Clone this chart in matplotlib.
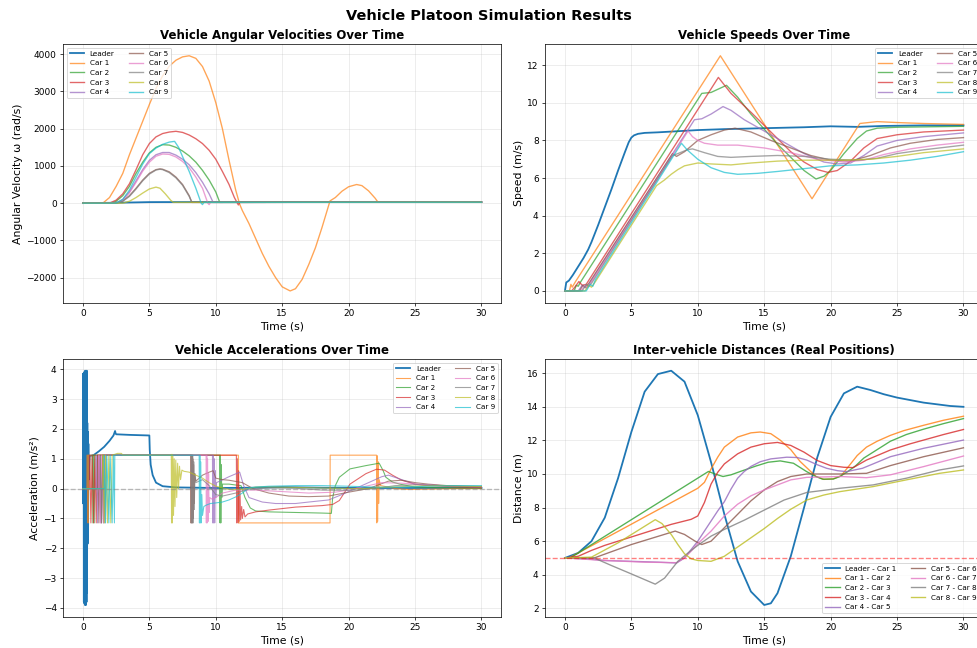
import matplotlib
matplotlib.use('Agg')
import matplotlib.pyplot as plt
import numpy as np

# ---------------- labels ----------------
VEHICLES = ['Leader', 'Car 1', 'Car 2', 'Car 3', 'Car 4', 'Car 5',
            'Car 6', 'Car 7', 'Car 8', 'Car 9']
PAIRS = ['Leader - Car 1', 'Car 1 - Car 2', 'Car 2 - Car 3', 'Car 3 - Car 4',
         'Car 4 - Car 5', 'Car 5 - Car 6', 'Car 6 - Car 7', 'Car 7 - Car 8',
         'Car 8 - Car 9']

# ---------------- angular velocity (t, rad/s) ----------------
OMEGA_LEADER = [(0, 0), (0.3, 2), (2, 8), (4, 20), (5, 27), (6, 28), (30, 29)]
OMEGA_CAR1 = [(0, 0), (1.5, 0), (2.0, 150), (2.5, 450), (3.0, 800), (3.5, 1300), (4.0, 1750),
              (4.5, 2200), (5.0, 2650), (5.5, 3080), (6.0, 3420), (6.5, 3680), (7.0, 3840),
              (7.5, 3930), (8.0, 3960), (8.5, 3890), (9.0, 3670), (9.5, 3280), (10.0, 2700),
              (10.5, 2000), (11.0, 1150), (11.5, 350), (11.8, -30), (12.0, -200), (12.5, -550),
              (13.0, -950), (13.5, -1350), (14.0, -1700), (14.5, -2000), (15.0, -2250),
              (15.6, -2360), (16.0, -2300), (16.5, -2050), (17.0, -1650), (17.5, -1200),
              (18.0, -650), (18.6, 60), (19.0, 150), (19.5, 320), (20.0, 440), (20.6, 500),
              (21.0, 470), (21.5, 330), (22.0, 130), (22.2, 30), (30, 30)]
OMEGA_CAR2 = [(0, 0), (2.2, 0), (2.5, 50), (3.0, 200), (3.5, 450), (4.0, 800), (4.5, 1100),
              (5.0, 1350), (5.5, 1500), (6.0, 1570), (6.5, 1560), (7.0, 1500), (7.5, 1400),
              (8.0, 1270), (8.5, 1100), (9.0, 880), (9.5, 620), (10.0, 300), (10.3, 20), (30, 25)]
OMEGA_CAR3 = [(0, 0), (2.0, 0), (2.5, 80), (3.0, 250), (3.5, 520), (4.0, 900), (4.5, 1300),
              (5.0, 1600), (5.5, 1780), (6.0, 1870), (6.5, 1910), (7.0, 1930), (7.5, 1900),
              (8.0, 1830), (8.5, 1730), (9.0, 1600), (9.5, 1420), (10.0, 1180), (10.5, 850),
              (11.0, 500), (11.4, 150), (11.7, -50), (11.8, 20), (30, 25)]
OMEGA_CAR4 = [(0, 0), (2.5, 0), (3.0, 100), (3.5, 300), (4.0, 600), (4.5, 900), (5.0, 1150),
              (5.5, 1300), (6.0, 1360), (6.5, 1360), (7.0, 1290), (7.5, 1180), (8.0, 1030),
              (8.5, 820), (9.0, 560), (9.5, 250), (9.8, 20), (30, 25)]
OMEGA_CAR5 = [(0, 0), (2.5, 0), (3.0, 60), (3.5, 200), (4.0, 400), (4.5, 620), (5.0, 800),
              (5.5, 900), (5.8, 920), (6.0, 910), (6.5, 840), (7.0, 700), (7.5, 500),
              (8.0, 200), (8.2, 20), (30, 25)]
OMEGA_CAR6 = [(0, 0), (2.5, 0), (3.0, 80), (3.5, 280), (4.0, 560), (4.5, 860), (5.0, 1100),
              (5.5, 1260), (6.0, 1320), (6.5, 1310), (7.0, 1240), (7.5, 1120), (8.0, 950),
              (8.5, 700), (9.0, 400), (9.4, 0), (9.5, -40), (9.6, 20), (30, 25)]
OMEGA_CAR7 = [(0, 0), (2.5, 0), (3.0, 50), (3.5, 180), (4.0, 380), (4.5, 600), (5.0, 780),
              (5.5, 890), (5.8, 910), (6.0, 900), (6.5, 820), (7.0, 680), (7.5, 480),
              (8.0, 180), (8.2, 20), (30, 25)]
OMEGA_CAR8 = [(0, 0), (3.0, 0), (3.5, 50), (4.0, 150), (4.5, 270), (5.0, 380), (5.5, 430),
              (5.8, 400), (6.2, 250), (6.6, 80), (6.8, 20), (30, 25)]
OMEGA_CAR9 = [(0, 0), (2.5, 0), (3.0, 100), (3.5, 350), (4.0, 700), (4.5, 1050), (5.0, 1330),
              (5.5, 1480), (6.0, 1580), (6.5, 1640), (6.9, 1660), (7.2, 1500), (7.5, 1250),
              (8.0, 850), (8.5, 400), (8.9, 0), (9.0, -40), (9.1, 20), (30, 25)]

# ---------------- speed (t, m/s) ----------------
SPEED_LEADER = [(0, 0), (0.1, 0.45), (0.3, 0.55), (0.6, 0.85), (1.0, 1.3), (1.4, 1.75),
                (1.75, 2.2), (2.0, 2.6), (2.5, 3.5), (3.0, 4.45), (3.5, 5.4), (4.0, 6.4),
                (4.5, 7.35), (4.8, 7.9), (5.0, 8.15), (5.2, 8.27), (5.5, 8.35), (6, 8.4),
                (7, 8.43), (8, 8.47), (10, 8.55), (12, 8.6), (15, 8.65), (18, 8.7), (20, 8.75),
                (22, 8.72), (24, 8.77), (27, 8.8), (30, 8.8)]
SPEED_CAR1 = [(0, 0), (0.34, 0), (0.45, 0.35), (0.55, 0.2), (0.8, 0.5), (11.7, 12.5),
              (18.6, 4.9), (22.2, 8.9), (23.5, 9.0), (25, 8.95), (27, 8.9), (30, 8.85)]
SPEED_CAR2 = [(0, 0), (0.7, 0), (0.85, 0.3), (1.0, 0.25), (1.2, 0.5), (10.3, 10.5), (11.0, 10.55),
              (12.16, 10.93), (13, 10.3), (14, 9.4), (15, 8.6), (16, 7.8), (17, 7.1), (18, 6.4),
              (18.9, 5.95), (19.5, 6.1), (20, 6.4), (21, 7.3), (22, 8.1), (22.7, 8.5),
              (23.5, 8.65), (25, 8.7), (30, 8.75)]
SPEED_CAR3 = [(0, 0), (0.5, 0), (0.8, 0.25), (1.05, 0.5), (1.3, 0.3), (1.6, 0.35), (11.55, 11.35),
              (12.5, 10.5), (14, 9.5), (15, 8.8), (16, 8.1), (17, 7.4), (18, 6.85), (19, 6.45),
              (19.8, 6.3), (20.5, 6.4), (21.5, 6.9), (22.5, 7.6), (23.5, 8.1), (25, 8.3),
              (27, 8.45), (30, 8.55)]
SPEED_CAR4 = [(0, 0), (1.0, 0), (1.3, 0.3), (1.6, 0.15), (1.9, 0.45), (9.75, 9.1), (10.3, 9.15),
              (11.0, 9.4), (11.9, 9.8), (12.5, 9.6), (13.5, 9.1), (15, 8.5), (16.5, 7.9),
              (18, 7.3), (19.5, 6.85), (20.5, 6.75), (21.5, 6.8), (22.5, 7.2), (23.5, 7.7),
              (25, 8.0), (27, 8.2), (30, 8.4)]
SPEED_CAR5 = [(0, 0), (1.1, 0), (1.35, 0.3), (1.5, 0.2), (1.8, 0.4), (8.1, 7.3), (8.4, 7.15),
              (9.0, 7.4), (10.0, 8.0), (11.0, 8.3), (12.0, 8.55), (12.8, 8.65), (14, 8.45),
              (15.5, 8.0), (17, 7.6), (18.5, 7.2), (20, 6.95), (21.5, 6.9), (23, 7.2),
              (24.5, 7.6), (26, 7.85), (28, 8.05), (30, 8.15)]
SPEED_CAR6 = [(0, 0), (1.2, 0), (1.5, 0.3), (1.7, 0.2), (2.0, 0.5), (9.27, 8.5), (9.6, 8.2),
              (10.0, 8.0), (10.5, 7.85), (11.5, 7.75), (13, 7.75), (15, 7.6), (17, 7.35),
              (19, 7.0), (21, 6.85), (22.5, 6.95), (24, 7.25), (26, 7.55), (28, 7.75), (30, 7.9)]
SPEED_CAR7 = [(0, 0), (1.3, 0), (1.6, 0.35), (1.8, 0.25), (2.0, 0.4), (8.1, 7.2), (8.5, 7.3),
              (9.2, 7.5), (9.6, 7.55), (10.5, 7.35), (11.5, 7.15), (12.5, 7.1), (14, 7.15),
              (16, 7.2), (18, 7.15), (20, 7.0), (22, 6.95), (23.5, 7.05), (25, 7.3),
              (27, 7.5), (30, 7.75)]
SPEED_CAR8 = [(0, 0), (1.5, 0), (1.8, 0.3), (2.0, 0.2), (2.3, 0.5), (6.9, 5.6), (7.5, 5.9),
              (8.0, 6.2), (8.5, 6.45), (9.0, 6.65), (10.0, 6.8), (11, 6.75), (12.5, 6.7),
              (14, 6.8), (16, 6.9), (18, 6.95), (21, 6.95), (23, 7.0), (25, 7.15),
              (27, 7.35), (30, 7.55)]
SPEED_CAR9 = [(0, 0), (1.6, 0), (1.9, 0.35), (2.1, 0.25), (2.3, 0.6), (8.77, 7.85), (9.2, 7.5),
              (10, 7.0), (11, 6.55), (12, 6.3), (13, 6.2), (14.5, 6.25), (16, 6.35), (18, 6.5),
              (20, 6.65), (22, 6.7), (24, 6.8), (26, 6.95), (28, 7.15), (30, 7.4)]

# ---------------- acceleration (t, m/s^2) ----------------
ACC_LEADER = [(0, 0), (0.01, 3.85), (0.03, -0.5), (0.05, 3.8), (0.07, -3.8), (0.09, 3.9),
              (0.11, -3.85), (0.13, 3.7), (0.15, -3.9), (0.17, 3.95), (0.19, -3.7), (0.21, 3.9),
              (0.23, -3.9), (0.25, 3.6), (0.27, -3.8), (0.29, 3.95), (0.31, -3.5), (0.33, 2.2),
              (0.35, -1.85), (0.37, 1.9), (0.39, -1.2), (0.41, 1.5), (0.43, 0.3), (0.5, 1.1),
              (0.8, 1.12), (1.2, 1.25), (1.6, 1.4), (2.0, 1.6), (2.3, 1.78), (2.42, 1.93),
              (2.46, 1.85), (2.5, 1.82), (3.5, 1.8), (5.0, 1.78), (5.03, 1.3), (5.1, 0.8),
              (5.25, 0.45), (5.5, 0.2), (6.0, 0.08), (7.0, 0.04), (10, 0.02), (13, 0.03),
              (15, 0.05), (18, 0.03), (21, 0.02), (25, 0.02), (30, 0.02)]
ACC_CAR1 = [(0, 0), (0.30, 0), (0.31, 1.12), (0.36, 1.12), (0.37, -1.15), (0.40, -1.15),
            (0.41, 1.12), (11.7, 1.12), (11.71, -1.15), (18.6, -1.15), (18.61, 1.12),
            (22.1, 1.12), (22.12, -1.15), (22.15, 1.1), (22.18, -1.1), (22.22, 0.9),
            (22.26, -0.5), (22.3, 0.3), (22.4, 0.1), (23.0, 0.05), (23.5, 0.0), (24.5, -0.03),
            (26, -0.02), (28, 0.0), (30, 0.0)]
ACC_CAR2 = [(0, 0), (0.7, 0), (0.71, 1.12), (0.75, -1.15), (0.8, 1.12), (0.85, -1.15),
            (0.9, 1.12), (10.3, 1.12), (10.32, -1.15), (10.35, 1.12), (10.38, -1.15),
            (10.42, 0.8), (10.45, -0.3), (10.5, 0.15), (11.0, 0.15), (11.5, 0.12), (11.9, 0.1),
            (12.2, -0.3), (12.6, -0.65), (13.0, -0.75), (14, -0.78), (16, -0.8), (18, -0.82),
            (18.7, -0.83), (18.8, -0.3), (19.0, 0.1), (19.3, 0.38), (20.1, 0.66), (21.3, 0.77),
            (22.3, 0.85), (22.6, 0.6), (22.8, 0.38), (23.3, 0.22), (23.85, 0.15), (25, 0.05),
            (27, 0.03), (30, 0.02)]
ACC_CAR3 = [(0, 0), (0.5, 0), (0.51, 1.12), (0.6, -1.15), (0.7, 1.12), (0.8, -1.15), (0.9, 1.12),
            (1.0, -1.15), (1.1, 1.12), (11.55, 1.12), (11.57, -1.15), (11.62, 1.0),
            (11.67, -1.15), (11.72, 0.6), (11.77, -1.1), (11.82, 0.0), (11.87, -1.05),
            (11.95, -0.6), (12.0, -1.0), (12.1, -0.7), (12.2, -0.95), (12.4, -0.85),
            (13, -0.78), (14, -0.72), (16, -0.62), (18, -0.57), (18.8, -0.53), (19.3, -0.4),
            (20.1, 0.15), (21.3, 0.5), (22.1, 0.65), (22.7, 0.62), (23.3, 0.45), (24, 0.28),
            (25, 0.15), (26, 0.1), (28, 0.06), (30, 0.04)]
ACC_CAR4 = [(0, 0), (1.0, 0), (1.01, 1.12), (1.1, -1.15), (1.2, 1.12), (1.35, -1.15),
            (1.45, 1.12), (1.55, -1.15), (1.6, 1.12), (9.75, 1.12), (9.77, -1.15), (9.8, 1.12),
            (9.84, -1.15), (9.88, 1.0), (9.92, -1.15), (9.96, 0.6), (10.0, -0.3), (10.05, 0.2),
            (10.3, 0.25), (11.0, 0.4), (11.8, 0.55), (12.1, 0.1), (12.5, -0.3), (13.5, -0.45),
            (14.5, -0.5), (16, -0.5), (17, -0.45), (18.5, -0.38), (19.5, -0.2), (20.5, 0.0),
            (21.5, 0.2), (22.5, 0.4), (23.0, 0.45), (24, 0.3), (25, 0.15), (27, 0.1),
            (30, 0.05)]
ACC_CAR5 = [(0, 0), (1.1, 0), (1.11, 1.12), (1.2, -1.15), (1.3, 1.12), (1.4, -1.15),
            (1.5, 1.12), (8.1, 1.12), (8.12, -1.15), (8.15, 1.12), (8.18, -1.15), (8.21, 1.12),
            (8.24, -1.15), (8.27, 1.0), (8.3, -1.0), (8.33, 0.8), (8.37, -0.5), (8.42, 0.5),
            (8.5, 0.25), (9.0, 0.45), (9.5, 0.55), (9.8, 0.6), (10.0, 0.35), (10.5, 0.3),
            (11, 0.28), (12, 0.2), (12.8, 0.0), (14, -0.15), (15.5, -0.25), (17, -0.27),
            (18.5, -0.25), (20, -0.12), (21.5, 0.0), (23, 0.25), (24, 0.28), (25, 0.2),
            (26, 0.15), (28, 0.08), (30, 0.03)]
ACC_CAR6 = [(0, 0), (1.2, 0), (1.21, 1.12), (1.3, -1.15), (1.4, 1.12), (1.55, -1.15),
            (1.65, 1.12), (9.27, 1.12), (9.29, -1.15), (9.32, 1.12), (9.35, -1.15), (9.38, 1.0),
            (9.42, -1.1), (9.46, 0.5), (9.5, -0.8), (9.55, -0.3), (9.7, -0.35), (10.0, -0.3),
            (10.5, -0.15), (11.5, -0.05), (13, -0.05), (15, -0.1), (17, -0.15), (19, -0.12),
            (20, -0.05), (21, 0.05), (22.5, 0.2), (24, 0.18), (26, 0.12), (28, 0.08),
            (30, 0.06)]
ACC_CAR7 = [(0, 0), (1.3, 0), (1.31, 1.12), (1.4, -1.15), (1.5, 1.12), (1.65, -1.15),
            (1.75, 1.12), (8.15, 1.12), (8.17, -1.15), (8.2, 1.12), (8.23, -1.15), (8.26, 1.12),
            (8.3, -1.15), (8.34, 0.9), (8.38, -0.7), (8.43, 0.5), (8.5, 0.2), (9.0, 0.3),
            (9.5, 0.1), (10, -0.2), (10.5, -0.25), (11.5, -0.15), (12.5, -0.02), (14, 0.02),
            (16, 0.01), (18, -0.05), (20, -0.06), (22, 0.0), (23.5, 0.1), (25, 0.13),
            (27, 0.1), (30, 0.07)]
ACC_CAR8 = [(0, 0), (1.5, 0), (1.51, 1.12), (1.6, -1.15), (1.7, 1.12), (1.85, -1.15),
            (1.95, 1.12), (2.1, -1.15), (2.2, 1.12), (2.6, 1.18), (2.9, 1.18), (3.0, 1.12),
            (6.65, 1.12), (6.67, -1.15), (6.7, 1.15), (6.73, -1.15), (6.77, 1.1), (6.82, -0.9),
            (6.87, 1.0), (6.93, -0.6), (6.99, 0.95), (7.06, -0.3), (7.13, 0.85), (7.2, 0.0),
            (7.27, 0.75), (7.35, 0.3), (7.45, 0.62), (7.6, 0.58), (8.0, 0.55), (8.5, 0.45),
            (9.0, 0.35), (9.5, 0.2), (10, 0.08), (11, -0.03), (12, -0.03), (13, 0.05),
            (14, 0.06), (16, 0.04), (18, 0.02), (21, 0.0), (23, 0.05), (25, 0.08), (27, 0.1),
            (30, 0.07)]
ACC_CAR9 = [(0, 0), (1.6, 0), (1.61, 1.12), (1.7, -1.15), (1.8, 1.12), (1.95, -1.15),
            (2.05, 1.12), (2.2, -1.15), (2.3, 1.12), (2.37, -1.15), (2.4, 1.12), (8.75, 1.12),
            (8.77, -1.15), (8.8, 1.12), (8.83, -1.15), (8.86, 0.9), (8.9, -1.15), (8.95, -0.2),
            (9.0, -0.9), (9.1, -0.6), (9.3, -0.55), (9.6, -0.5), (10.0, -0.48), (10.5, -0.45),
            (11, -0.38), (11.5, -0.28), (12, -0.15), (12.5, 0.02), (13, 0.05), (14, 0.08),
            (16, 0.1), (18, 0.1), (20, 0.08), (22, 0.05), (24, 0.05), (26, 0.08), (28, 0.1),
            (30, 0.1)]

# ---------------- inter-vehicle distance (t, m) ----------------
DIST_L_1 = [(0, 5.0), (1, 5.3), (2, 6.0), (3, 7.4), (4, 9.75), (5, 12.5), (6, 14.9), (7, 15.95),
            (8, 16.15), (9, 15.5), (10, 13.5), (11, 10.7), (12, 7.6), (13, 4.8), (14, 3.0),
            (15, 2.2), (15.5, 2.3), (16, 2.9), (17, 5.1), (18, 8.0), (19, 11.0), (20, 13.4),
            (21, 14.8), (22, 15.2), (23, 15.0), (24, 14.75), (25, 14.55), (26, 14.4),
            (27, 14.25), (28, 14.15), (29, 14.05), (30, 14.0)]
DIST_1_2 = [(0, 5.0), (0.3, 5.0), (10.0, 9.15), (10.5, 9.5), (11, 10.3), (11.5, 11.0),
            (12, 11.6), (13, 12.2), (14, 12.45), (14.7, 12.5), (15.5, 12.4), (16.2, 12.02),
            (17, 11.45), (17.7, 10.75), (18.5, 10.15), (18.9, 9.85), (19.5, 9.68), (20.2, 9.71),
            (20.8, 9.9), (21.4, 10.5), (22, 11.1), (22.7, 11.6), (23.5, 11.95), (24.5, 12.3),
            (25.5, 12.58), (27, 12.9), (28.5, 13.2), (30, 13.44)]
DIST_2_3 = [(0, 5.0), (0.4, 5.0), (10.8, 10.15), (11.3, 10.0), (11.9, 9.85), (12.5, 9.95),
            (13.2, 10.15), (14.4, 10.48), (15.3, 10.7), (16.2, 10.78), (17.2, 10.64),
            (18.2, 10.14), (18.9, 9.85), (19.4, 9.69), (20.2, 9.7), (20.7, 9.85), (21.3, 10.15),
            (21.9, 10.5), (22.5, 10.95), (23.2, 11.3), (24.5, 11.95), (25.7, 12.35),
            (27, 12.67), (28.5, 13.0), (30, 13.3)]
DIST_3_4 = [(0, 5.0), (1, 5.1), (2, 5.45), (3, 5.75), (5, 6.25), (8, 7.0), (9.5, 7.3),
            (10, 7.5), (10.5, 8.3), (11, 9.4), (11.5, 10.1), (12, 10.6), (13, 11.2),
            (14, 11.6), (15, 11.8), (16, 11.88), (17, 11.7), (18, 11.3), (19, 10.8),
            (20, 10.5), (21, 10.4), (21.7, 10.38), (22.7, 10.83), (24.5, 11.43), (26, 11.8),
            (27, 12.02), (28.5, 12.35), (30, 12.65)]
DIST_4_5 = [(0, 5.0), (1.5, 4.95), (3, 4.85), (5, 4.8), (7, 4.75), (8.4, 4.7), (9.0, 5.0),
            (9.5, 5.5), (10, 6.0), (10.5, 6.6), (11, 7.2), (11.5, 7.8), (12, 8.35), (12.5, 9.1),
            (13, 9.75), (13.5, 10.15), (14, 10.45), (14.7, 10.73), (15.5, 10.9), (16.7, 11.0),
            (17.5, 10.98), (18.2, 10.83), (19, 10.55), (19.7, 10.34), (20.5, 10.2),
            (21.2, 10.14), (22.4, 10.34), (23.5, 10.7), (24.5, 11.03), (27, 11.53),
            (30, 12.02)]
DIST_5_6 = [(0, 5.0), (2.2, 5.0), (5, 5.8), (8.3, 6.6), (9.0, 6.4), (9.8, 6.0), (10.3, 5.8),
            (11.0, 6.0), (12, 6.8), (13, 7.6), (14, 8.4), (15, 9.05), (16, 9.55), (17, 9.85),
            (18.2, 10.0), (20.7, 10.0), (22.7, 10.04), (24.5, 10.5), (27, 11.03), (30, 11.56)]
DIST_6_7 = [(0, 5.0), (3, 4.85), (6, 4.75), (8.4, 4.72), (9.0, 5.0), (9.5, 5.4), (10, 5.85),
            (11, 6.6), (12, 7.5), (13, 8.2), (14, 8.7), (15, 9.05), (16, 9.35), (17, 9.65),
            (18.2, 9.8), (20.7, 9.85), (22.7, 9.78), (24.5, 9.95), (27, 10.44), (30, 11.07)]
DIST_7_8 = [(0, 5.0), (2.2, 5.0), (3.5, 4.55), (5, 4.05), (6.8, 3.44), (7.5, 3.8), (8.5, 4.8),
            (9.5, 5.45), (10, 5.75), (11, 6.3), (12, 6.7), (13.5, 7.25), (15, 7.85),
            (16.5, 8.45), (18.2, 8.9), (20.7, 9.15), (23.2, 9.35), (25.7, 9.75), (28.2, 10.24),
            (30, 10.48)]
DIST_8_9 = [(0, 5.0), (2.0, 5.05), (4, 5.9), (6.8, 7.28), (7.3, 7.05), (8, 6.4), (8.5, 5.8),
            (9, 5.25), (9.5, 4.95), (10, 4.85), (11, 4.8), (12, 5.1), (13, 5.65), (14, 6.2),
            (15, 6.75), (16, 7.35), (17, 7.9), (18.2, 8.45), (19.5, 8.75), (20.7, 8.95),
            (23.2, 9.25), (25.7, 9.65), (28.2, 10.04), (30, 10.24)]

OMEGA = [OMEGA_LEADER, OMEGA_CAR1, OMEGA_CAR2, OMEGA_CAR3, OMEGA_CAR4, OMEGA_CAR5,
         OMEGA_CAR6, OMEGA_CAR7, OMEGA_CAR8, OMEGA_CAR9]
SPEED = [SPEED_LEADER, SPEED_CAR1, SPEED_CAR2, SPEED_CAR3, SPEED_CAR4, SPEED_CAR5,
         SPEED_CAR6, SPEED_CAR7, SPEED_CAR8, SPEED_CAR9]
ACC = [ACC_LEADER, ACC_CAR1, ACC_CAR2, ACC_CAR3, ACC_CAR4, ACC_CAR5,
       ACC_CAR6, ACC_CAR7, ACC_CAR8, ACC_CAR9]
DIST = [DIST_L_1, DIST_1_2, DIST_2_3, DIST_3_4, DIST_4_5, DIST_5_6, DIST_6_7, DIST_7_8, DIST_8_9]

COLORS = ['#1f77b4', '#ff7f0e', '#2ca02c', '#d62728', '#9467bd',
          '#8c564b', '#e377c2', '#7f7f7f', '#bcbd22', '#17becf']

DPI = 65
fig = plt.figure(figsize=(977 / DPI, 648 / DPI), dpi=DPI)

W = 438.4 / 977
ax_tl = fig.add_axes([63 / 977, 1 - 302.7 / 648, W, (302.7 - 44) / 648])
ax_tr = fig.add_axes([545 / 977, 1 - 302.7 / 648, W, (302.7 - 44) / 648])
ax_bl = fig.add_axes([63 / 977, 1 - 616.7 / 648, W, (616.7 - 359) / 648])
ax_br = fig.add_axes([545 / 977, 1 - 616.7 / 648, W, (616.7 - 359) / 648])

TITLE_FS = 13
LABEL_FS = 12
LEGEND_FS = 8


def draw(ax, series, labels, lw_lead, lw_car, alpha_car):
    for i, s in enumerate(series):
        arr = np.array(s, dtype=float)
        if i == 0:
            ax.plot(arr[:, 0], arr[:, 1], color=COLORS[i], lw=lw_lead, label=labels[i])
        else:
            ax.plot(arr[:, 0], arr[:, 1], color=COLORS[i], lw=lw_car, alpha=alpha_car,
                    label=labels[i])


draw(ax_tl, OMEGA, VEHICLES, 2, 1.5, 0.7)
ax_tl.set_title('Vehicle Angular Velocities Over Time', fontsize=TITLE_FS, fontweight='bold')
ax_tl.set_xlabel('Time (s)', fontsize=LABEL_FS)
ax_tl.set_ylabel('Angular Velocity ω (rad/s)', fontsize=LABEL_FS)
ax_tl.legend(loc='upper left', ncol=2, fontsize=LEGEND_FS)

draw(ax_tr, SPEED, VEHICLES, 2, 1.5, 0.7)
ax_tr.set_title('Vehicle Speeds Over Time', fontsize=TITLE_FS, fontweight='bold')
ax_tr.set_xlabel('Time (s)', fontsize=LABEL_FS)
ax_tr.set_ylabel('Speed (m/s)', fontsize=LABEL_FS)
ax_tr.legend(loc='upper right', ncol=2, fontsize=LEGEND_FS)

draw(ax_bl, ACC, VEHICLES, 2, 1.2, 0.7)
ax_bl.axhline(0, color='gray', ls='--', alpha=0.5)
ax_bl.set_title('Vehicle Accelerations Over Time', fontsize=TITLE_FS, fontweight='bold')
ax_bl.set_xlabel('Time (s)', fontsize=LABEL_FS)
ax_bl.set_ylabel('Acceleration (m/s²)', fontsize=LABEL_FS)
ax_bl.legend(loc='upper right', ncol=2, fontsize=LEGEND_FS)

for i, s in enumerate(DIST):
    arr = np.array(s, dtype=float)
    ax_br.plot(arr[:, 0], arr[:, 1], color=COLORS[i], lw=2 if i == 0 else 1.5,
               alpha=1 if i == 0 else 0.8, label=PAIRS[i])
ax_br.axhline(5, color='red', ls='--', alpha=0.5)
ax_br.set_title('Inter-vehicle Distances (Real Positions)', fontsize=TITLE_FS, fontweight='bold')
ax_br.set_xlabel('Time (s)', fontsize=LABEL_FS)
ax_br.set_ylabel('Distance (m)', fontsize=LABEL_FS)
ax_br.legend(loc='lower right', ncol=2, fontsize=LEGEND_FS)

for ax in (ax_tl, ax_tr, ax_bl, ax_br):
    ax.grid(True, alpha=0.3)
    ax.tick_params(labelsize=10)

fig.suptitle('Vehicle Platoon Simulation Results', fontsize=16, fontweight='bold',
             y=1 - 16 / 648, va='center')

fig.savefig('out.png', dpi=DPI)
